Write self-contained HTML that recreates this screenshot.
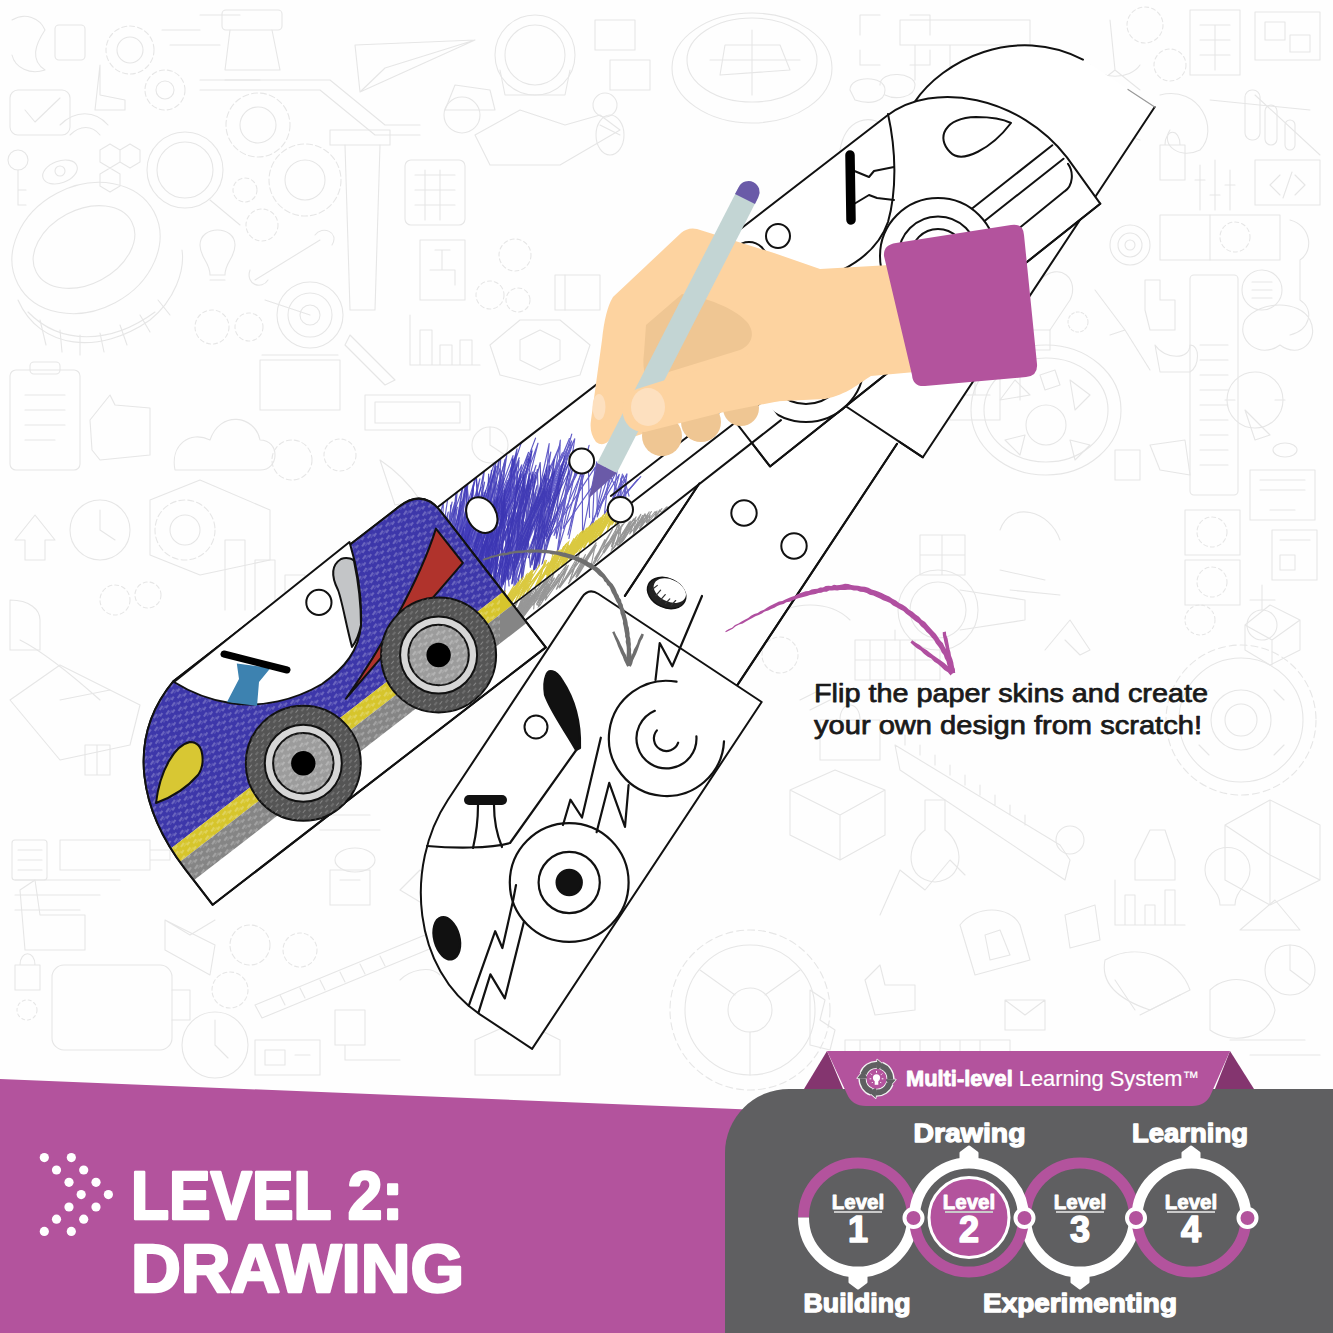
<!DOCTYPE html>
<html><head><meta charset="utf-8">
<style>
html,body{margin:0;padding:0;background:#fefefe;}
body{width:1333px;height:1333px;overflow:hidden;position:relative;}
svg{position:absolute;left:0;top:0;}
</style></head><body>
<svg width="1333" height="1333" viewBox="0 0 1333 1333">
<g id="bg" fill="none" stroke="#e6e6e6" stroke-width="1.1" stroke-linecap="round" stroke-linejoin="round">
  <!-- tire top-left -->
  <ellipse cx="86" cy="248" rx="77" ry="62" transform="rotate(-28 86 248)"/>
  <ellipse cx="84" cy="247" rx="54" ry="37" transform="rotate(-28 84 247)"/>
  <path d="M18,300 C40,350 100,355 150,320 C175,300 185,270 182,250"/>
  <path d="M28,312 C60,345 110,345 155,312"/>
  <path d="M40,320 L46,345 M60,330 L62,352 M80,335 L80,355 M100,333 L104,352 M120,325 L127,345 M140,315 L150,332 M158,300 L170,315"/>
  <!-- top-left icons -->
  <path d="M12,20 C25,12 40,18 45,30 C35,45 30,60 45,70 C30,75 15,68 12,55"/><rect x="55" y="25" width="30" height="35" rx="4"/>
  <circle cx="130" cy="50" r="24" stroke-dasharray="5 3"/><circle cx="130" cy="50" r="13"/>
  <circle cx="165" cy="90" r="20" stroke-dasharray="5 3"/><circle cx="165" cy="90" r="9"/>
  <path d="M100,65 L100,95 L125,100 L125,110 L95,110 Z"/>
  <rect x="10" y="90" width="60" height="45" rx="8"/><path d="M25,110 L35,122 L60,98"/>
  <path d="M60,125 C75,110 95,110 108,125 M70,135 C80,125 92,125 100,135"/>
  <circle cx="18" cy="160" r="10"/><path d="M18,170 L18,205 L26,205 M18,190 L26,190"/>
  <ellipse cx="60" cy="172" rx="18" ry="11" transform="rotate(-20 60 172)"/><circle cx="60" cy="171" r="5"/>
  <path d="M100,150 L110,144 L120,150 L120,162 L110,168 L100,162 Z M120,150 L130,144 L140,150 L140,162 L130,168 L120,162 Z M110,168 L120,174 L120,186 L110,192 L100,186 L100,174 Z"/>
  <circle cx="185" cy="170" r="38"/><circle cx="185" cy="170" r="28"/><path d="M210,200 L240,225"/>
  <path d="M162,30 L200,30 M170,45 L220,45 M200,15 L240,15 M225,80 L260,80"/>
  <path d="M200,80 L330,80 L385,125 L420,125 M200,90 L320,90 L375,135 L420,135"/>
  <rect x="222" y="10" width="60" height="20" rx="4"/><path d="M230,30 L225,70 L280,70 L272,30"/><rect x="330" y="130" width="60" height="15"/><path d="M345,145 L350,310 L375,310 L380,145"/>
  <path d="M355,45 L475,40 L360,92 Z M360,92 L385,68 L475,40"/>
  <circle cx="258" cy="125" r="32" stroke-dasharray="6 3"/><circle cx="258" cy="125" r="18"/>
  <circle cx="305" cy="180" r="36" stroke-dasharray="6 3"/><circle cx="305" cy="180" r="20"/>
  <circle cx="245" cy="190" r="12" stroke-dasharray="4 3"/><circle cx="262" cy="225" r="16" stroke-dasharray="4 3"/>
  <ellipse cx="535" cy="55" rx="40" ry="40"/><ellipse cx="535" cy="55" rx="30" ry="30"/><path d="M500,70 L505,95 L565,95 L570,70"/>
  <rect x="405" y="160" width="60" height="65" rx="6"/><path d="M415,175 L455,175 M415,190 L455,190 M415,205 L455,205 M425,170 L425,220 M440,170 L440,220"/>
  <path d="M475,135 L520,110 L565,125 L600,115 L620,130 L560,165 L490,165 Z"/><ellipse cx="610" cy="135" rx="14" ry="20"/>
  <path d="M445,110 L455,85 L490,90 L495,110 Z"/><circle cx="462" cy="115" r="18"/>
  <circle cx="605" cy="105" r="12"/><path d="M600,125 L620,135"/>
  <path d="M610,60 L650,60 L650,90 L610,90 Z M595,20 L635,20 L635,50 L595,50 Z"/>
  <path d="M200,245 C200,225 235,225 235,245 C235,258 225,262 225,275 L210,275 C210,262 200,258 200,245 Z M210,280 L225,280"/>
  <path d="M255,280 L320,240 M250,270 C245,285 262,290 268,280 M315,235 C322,225 340,232 332,245"/>
  <circle cx="310" cy="315" r="33"/><circle cx="310" cy="315" r="22"/><circle cx="310" cy="315" r="10"/><path d="M265,300 L310,315"/>
  <path d="M350,335 L395,380 L385,385 L345,345 Z"/>
  <path d="M410,315 L410,365 L480,365 M420,365 L420,330 L432,330 L432,365 M440,365 L440,345 L452,345 L452,365 M460,365 L460,340 L472,340 L472,365"/>
  <rect x="420" y="240" width="45" height="60"/><path d="M435,250 L450,250 M442,250 L442,270 M430,270 L455,270 L455,285"/>
  <path d="M490,345 L520,320 L560,320 L590,345 L580,375 L540,385 L500,375 Z"/><path d="M520,340 L540,330 L560,340 L560,360 L540,370 L520,360 Z"/>
  <circle cx="212" cy="327" r="17" stroke-dasharray="4 3"/><circle cx="249" cy="327" r="14" stroke-dasharray="4 3"/>
  <circle cx="515" cy="255" r="16" stroke-dasharray="4 3"/><circle cx="490" cy="295" r="14" stroke-dasharray="4 3"/><circle cx="518" cy="300" r="12" stroke-dasharray="4 3"/>
  <rect x="555" y="275" width="45" height="35"/><path d="M565,275 L565,310"/>
  <rect x="10" y="370" width="70" height="100" rx="6"/><path d="M25,395 L65,395 M25,410 L65,410 M25,425 L65,425 M25,440 L55,440"/><rect x="30" y="362" width="30" height="12" rx="4"/>
  <path d="M90,420 L110,395 L115,405 L150,408 L150,455 L100,460 L92,450 Z"/>
  <path d="M175,470 C170,445 190,430 210,440 C220,410 255,415 260,440 C280,440 280,470 260,470 Z"/>
  <circle cx="292" cy="460" r="20" stroke-dasharray="5 3"/><circle cx="340" cy="455" r="16" stroke-dasharray="4 3"/>
  <path d="M365,395 L470,395 L470,430 L365,430 Z"/><path d="M375,402 L460,402 L460,423 L375,423 Z"/>
  <path d="M260,360 L340,360 L340,410 L260,410 Z M262,355 L338,355"/>
  <circle cx="490" cy="445" r="18"/><path d="M490,445 L490,427 M490,445 L505,455"/>
  <path d="M380,460 C395,470 410,485 420,500 L395,505 Z"/>
  <!-- left middle -->
  <path d="M150,500 L200,480 L270,510 L270,560 L200,575 L150,555 Z"/><circle cx="185" cy="530" r="30" stroke-dasharray="6 3"/><circle cx="185" cy="530" r="15"/>
  <circle cx="100" cy="530" r="30"/><path d="M100,530 L100,510 M100,530 L115,540"/>
  <path d="M15,540 L35,515 L55,540 L45,540 L45,560 L25,560 L25,540 Z"/>
  <path d="M225,610 L225,540 L245,540 L245,610 M255,610 L255,560 L275,560 L275,610 M285,610 L285,575 L305,575 L305,610"/>
  <circle cx="115" cy="600" r="15" stroke-dasharray="4 3"/><circle cx="148" cy="595" r="13" stroke-dasharray="4 3"/>
  <path d="M10,600 C30,600 40,610 40,620 L40,650 L10,650 Z"/><path d="M20,640 C30,645 55,660 100,700"/>
  <path d="M10,700 L60,665 L140,705 L130,745 L60,760 Z"/><path d="M60,700 L110,690"/>
  <path d="M85,745 L85,775 L110,775 L110,745 Z M97,745 L97,775"/>
  <rect x="12" y="840" width="35" height="40" rx="3"/><path d="M18,850 L42,850 M18,860 L42,860 M18,870 L42,870"/>
  <path d="M60,840 L150,840 L150,870 L60,870 Z M150,850 L170,850 L170,860 L150,860"/>
  <path d="M15,880 L120,880 M15,895 L100,895 M15,910 L80,910"/>
  <path d="M20,890 L35,880 L40,915 L85,915 L85,950 L25,950 Z"/>
  <path d="M165,920 L215,945 L210,975 L165,950 Z M165,920 L190,935 L215,920"/>
  <circle cx="250" cy="945" r="20" stroke-dasharray="5 3"/><circle cx="300" cy="950" r="17" stroke-dasharray="4 3"/><circle cx="230" cy="990" r="18" stroke-dasharray="4 3"/>
  <path d="M255,1005 L425,935 L432,948 L262,1018 Z M280,995 L285,1005 M300,988 L305,998 M320,980 L325,990 M340,972 L345,982 M360,964 L365,974 M380,956 L385,966"/>
  <rect x="52" y="965" width="120" height="85" rx="12"/><path d="M172,990 L190,990 L190,1020 L172,1020"/>
  <path d="M15,965 L40,965 L40,990 L15,990 Z M20,965 C20,950 35,950 35,965"/><circle cx="27" cy="1010" r="10" stroke-dasharray="3 3"/>
  <circle cx="215" cy="1045" r="33"/><path d="M215,1045 L215,1020 M215,1045 L228,1058"/>
  <path d="M255,1040 L320,1040 L320,1075 L255,1075 Z M265,1050 L285,1050 L285,1065 L265,1065 Z M295,1055 L310,1055"/>
  <path d="M335,1010 L365,1010 L365,1045 L335,1045 Z M345,1045 L345,1060 L400,1060"/>
  <path d="M475,1040 L520,1020 L560,1040 L560,1075 L475,1075 Z"/>
  <path d="M440,950 L455,935 M445,965 L470,945 M400,980 C410,970 430,965 440,975"/>
  <path d="M330,870 L370,870 L370,905 L330,905 Z M340,880 L360,880"/>
  <path d="M400,890 L420,870 L440,890 L425,905 Z"/>
  <ellipse cx="355" cy="860" rx="20" ry="12"/><path d="M320,830 L380,830 M330,815 L370,815"/>
  <!-- top right -->
  <ellipse cx="752" cy="68" rx="80" ry="55"/><ellipse cx="752" cy="60" rx="65" ry="42"/><path d="M710,60 L800,60 M752,30 L752,95"/><path d="M725,45 L780,45 L790,70 L720,75 Z"/>
  <path d="M860,15 L880,15 M860,15 L860,35 M930,15 L910,15 M930,15 L930,35 M860,50 L860,65 L880,65 M930,50 L930,65 L910,65"/>
  <path d="M900,20 L1030,20 L1030,45 L900,45 Z M915,45 L915,80 M950,45 L950,80"/>
  <path d="M850,90 C850,75 885,75 885,90 C885,102 870,105 855,100 Z M880,85 C880,70 915,72 915,85 C915,98 895,100 885,95"/>
  <path d="M1110,20 L1115,70 L1090,90 M1115,70 L1140,90"/><path d="M1090,65 C1100,80 1130,80 1140,65"/>
  <circle cx="1145" cy="25" r="18" stroke-dasharray="4 3"/><circle cx="1170" cy="65" r="16" stroke-dasharray="4 3"/>
  <rect x="1190" y="10" width="50" height="65"/><path d="M1200,25 L1230,25 M1200,40 L1230,40 M1200,55 L1230,55 M1215,25 L1215,70"/>
  <rect x="1255" y="12" width="65" height="48"/><path d="M1265,22 L1285,22 L1285,40 L1265,40 Z M1290,35 L1310,35 L1310,52 L1290,52 Z"/>
  <path d="M1160,95 C1200,85 1220,130 1200,150 C1180,160 1160,145 1170,130"/><path d="M1140,110 C1120,115 1120,135 1140,140"/>
  <path d="M1210,100 L1310,110 M1255,95 L1320,155"/>
  <rect x="1245" y="90" width="15" height="50" rx="7"/><rect x="1265" y="105" width="12" height="40" rx="6"/><rect x="1285" y="120" width="10" height="30" rx="5"/>
  <path d="M1160,145 L1185,145 L1185,180 L1160,180 Z M1165,145 C1165,128 1180,128 1180,145"/>
  <path d="M1200,165 L1200,210 M1215,160 L1215,210 M1230,170 L1230,210 M1195,180 L1205,180 M1210,195 L1220,195 M1225,185 L1235,185"/>
  <rect x="1255" y="160" width="65" height="45"/><path d="M1270,185 L1280,175 M1270,185 L1280,195 M1305,185 L1295,175 M1305,185 L1295,195 M1292,172 L1283,198"/>
  <rect x="1160" y="215" width="120" height="45"/><path d="M1210,215 L1210,260"/><circle cx="1235" cy="237" r="15" stroke-dasharray="4 3"/>
  <circle cx="1130" cy="245" r="20"/><circle cx="1130" cy="245" r="12"/><circle cx="1130" cy="245" r="5"/>
  <path d="M1290,220 C1310,225 1315,250 1300,260 L1300,300 C1315,310 1310,330 1290,335"/>
  <rect x="1190" y="275" width="48" height="220" rx="4"/><path d="M1200,345 L1228,345 M1200,360 L1228,360 M1200,375 L1228,375 M1200,390 L1228,390 M1200,405 L1228,405 M1200,420 L1228,420 M1200,435 L1228,435 M1200,450 L1228,450 M1200,465 L1228,465"/>
  <circle cx="1262" cy="290" r="20"/><path d="M1252,282 L1272,282 M1252,290 L1272,290 M1252,298 L1272,298"/>
  <path d="M1245,320 C1235,340 1260,360 1280,345 C1300,360 1320,340 1310,320 C1300,300 1260,300 1245,320 Z"/>
  <circle cx="1255" cy="400" r="28"/><path d="M1225,400 L1235,400 M1275,400 L1285,400"/>
  <path d="M1245,410 L1270,435 L1255,440 Z"/><ellipse cx="1285" cy="450" rx="12" ry="7"/>
  <rect x="1250" y="470" width="65" height="50"/><path d="M1260,480 L1305,480 M1260,490 L1305,490 M1270,510 L1295,510"/>
  <rect x="1185" y="510" width="55" height="45"/><circle cx="1212" cy="532" r="15" stroke-dasharray="4 3"/>
  <rect x="1185" y="560" width="55" height="45"/><circle cx="1212" cy="582" r="15" stroke-dasharray="4 3"/>
  <rect x="1272" y="530" width="45" height="50"/><path d="M1280,540 L1310,540 M1280,555 L1295,555 L1295,570 L1280,570 Z"/>
  <path d="M1262,585 L1262,610 M1250,600 L1275,600"/><circle cx="1262" cy="625" r="15"/>
  <path d="M1245,625 L1270,605 L1300,620 L1300,650 L1270,665 L1245,650 Z M1245,625 L1272,640 L1300,620 M1272,640 L1272,665"/>
  <rect x="950" y="360" width="50" height="60"/><path d="M960,375 L990,375 M975,375 L975,395 L960,395 M975,395 L990,395"/>
  <path d="M1010,330 L1050,330 L1050,350 L1010,350 Z M1020,350 L1020,400"/>
  <path d="M1040,280 C1060,260 1080,280 1070,300 L1050,330"/><circle cx="1078" cy="322" r="10" stroke-dasharray="3 2"/>
  <path d="M1095,290 L1125,330 L1110,335 M1125,330 L1150,370"/>
  <path d="M1145,280 L1160,280 L1160,300 L1175,300 L1175,330 L1150,330 L1145,310 Z"/>
  <path d="M1155,345 C1165,360 1190,360 1190,345 C1200,345 1200,365 1190,372 L1160,372 Z"/>
  <path d="M1150,445 L1185,440 L1190,475 L1160,470 Z"/>
  <path d="M1115,450 L1140,450 L1140,480 L1115,480 Z"/>
  <!-- fan wheel -->
  <ellipse cx="1046" cy="410" rx="75" ry="65"/><ellipse cx="1046" cy="410" rx="62" ry="52"/><circle cx="1046" cy="425" r="20"/>
  <path d="M1000,400 L1015,380 L1030,395 Z M1070,380 L1090,395 L1075,410 Z M1005,440 L1025,435 L1020,455 Z M1070,440 L1090,445 L1075,460 Z M1040,375 L1055,370 L1060,385 L1045,390 Z"/>
  <path d="M1010,60 C1030,45 1060,50 1070,70"/><path d="M840,150 C845,120 870,110 890,130"/>
  <!-- right lower -->
  <g transform="translate(99,0)"><circle cx="1142" cy="720" r="75" stroke-dasharray="7 4"/><circle cx="1142" cy="720" r="62"/><circle cx="1142" cy="720" r="30"/><circle cx="1142" cy="720" r="16"/>
  <path d="M1100,700 L1110,690 M1185,700 L1175,690 M1100,745 L1110,755 M1185,745 L1175,755"/></g>
  <path d="M895,745 L1060,845 L1070,860 L1065,880 L900,770 Z M905,745 L905,735 M920,755 L920,745 M935,765 L935,755 M950,775 L950,765 M965,785 L965,775 M980,795 L980,785 M995,805 L995,795 M1010,815 L1010,805 M1025,825 L1025,815"/>
  <circle cx="1070" cy="840" r="14"/>
  <g transform="translate(30,0)"><path d="M1240,800 L1290,825 L1290,880 L1240,855 Z M1195,825 L1240,800 M1195,825 L1195,880 L1240,905 L1290,880 M1195,825 L1240,855 L1240,905"/></g>
  <path d="M925,800 L945,800 L945,830 C965,845 965,880 935,882 C905,880 905,845 925,830 Z"/>
  <path d="M790,790 L835,770 L885,790 L840,815 Z M790,790 L790,835 L840,860 L885,835 L885,790 M840,815 L840,860"/>
  <path d="M880,915 L900,870 L925,890 L950,860 L965,875"/>
  <path d="M1115,880 L1115,925 L1185,925 M1125,925 L1125,895 L1135,895 L1135,925 M1145,925 L1145,905 L1155,905 L1155,925 M1165,925 L1165,890 L1175,890 L1175,925"/>
  <path d="M1135,860 L1150,830 L1165,830 L1175,860 L1175,880 L1135,880 Z"/>
  <path d="M1205,870 C1205,840 1250,840 1250,870 C1250,885 1235,890 1235,905 L1220,905 C1220,890 1205,885 1205,870 Z"/>
  <path d="M1240,930 L1275,900 L1300,930 L1240,930 Z"/>
  <circle cx="1290" cy="970" r="25"/><path d="M1290,970 L1290,945 M1290,970 L1310,985"/>
  <path d="M1105,960 C1140,940 1180,960 1190,990 L1150,1010 C1120,1000 1100,985 1105,960 Z"/>
  <path d="M1115,980 L1135,1010 M1140,1015 L1180,995"/>
  <path d="M1210,990 C1230,970 1270,980 1275,1010 C1270,1040 1230,1045 1210,1030 Z"/>
  <path d="M1230,1040 L1305,1040 M1250,1055 L1320,1055"/>
  <path d="M960,925 C975,905 1010,905 1020,925 L1030,960 L975,975 Z"/><path d="M985,935 L1000,930 L1010,955 L990,960 Z"/>
  <path d="M1065,915 L1095,905 L1100,940 L1070,948 Z"/>
  <path d="M1005,1000 L1045,1000 L1045,1030 L1005,1030 Z M1005,1000 L1025,1015 L1045,1000"/>
  <path d="M865,980 L880,965 L885,985 L915,985 L915,1010 L875,1015 Z"/>
  <path d="M810,990 L825,1000 L820,1020 L835,1030 L830,1050 L810,1045 Z"/>
  <circle cx="750" cy="1010" r="80" stroke-dasharray="7 4"/><circle cx="750" cy="1010" r="65"/><circle cx="750" cy="1010" r="22"/><path d="M700,970 L735,995 M800,970 L765,995 M750,1032 L750,1075"/>
  <path d="M845,1040 L1010,1040 L1010,1058 L845,1058 Z M860,1040 L860,1058 M880,1040 L880,1058 M900,1040 L900,1058 M920,1040 L920,1058 M940,1040 L940,1058 M960,1040 L960,1058 M980,1040 L980,1058"/>
  <path d="M820,720 L880,720 L880,760 L820,760 Z M840,720 C840,700 860,700 860,720"/>
  <path d="M800,700 L820,690 M810,710 L830,700"/>
  <path d="M855,640 L940,640 L940,680 L855,680 Z M870,640 L870,680 M885,640 L885,680 M900,640 L900,680 M915,640 L915,680 M855,660 L940,660"/><path d="M895,630 L895,640"/>
  <path d="M770,620 C790,600 830,600 850,620"/><circle cx="780" cy="655" r="18" stroke-dasharray="4 3"/>
  <circle cx="938" cy="610" r="40"/><circle cx="938" cy="610" r="28"/><path d="M960,590 L1025,600 L1025,620 L960,630"/>
  <path d="M920,535 L965,535 L965,575 L920,575 Z M920,555 L965,555 M942,535 L942,575"/>
  <path d="M1000,530 C1010,500 1050,510 1060,540"/>
  <path d="M1000,570 L1045,580 M1010,590 L1060,595"/>
  <path d="M1045,650 L1070,620 L1090,650 L1080,655 L1065,640"/>
  <circle cx="1200" cy="620" r="15" stroke-dasharray="3 3"/>
  <path d="M1235,1150 L1270,1130"/>
</g>
<!-- ILLUSTRATION -->
<defs>
  <pattern id="tex" patternUnits="userSpaceOnUse" width="10" height="8" patternTransform="rotate(-55)">
    <path d="M0,2 L5,2 M5,6 L9,6" stroke="#ffffff" stroke-width="1.2" opacity="0.45" fill="none"/>
    <path d="M2,4.2 L7,4.2" stroke="#ffffff" stroke-width="0.8" opacity="0.25" fill="none"/>
  </pattern>
  <pattern id="texd" patternUnits="userSpaceOnUse" width="9" height="7" patternTransform="rotate(-50)">
    <path d="M0,2 L4,2 M4,5.5 L8,5.5" stroke="#dddddd" stroke-width="1.1" opacity="0.35" fill="none"/>
  </pattern>
</defs>
<g id="ill" fill="#fff" stroke="#111" stroke-width="2" stroke-linejoin="round" stroke-linecap="round">

<!-- P1 outer back paper (56.5deg) -->
<g transform="matrix(0.5519,-0.8339,0.8339,0.5519,0,0)">
  <path d="M128,930 L128,1022 L548,1022 L548,936 C540,860 470,819 419,819 L300,780 L128,780 Z" stroke="none"/>
  <path d="M128,930 L128,1022 L548,1022" fill="none"/>
  <path d="M548,1022 L548,990" fill="none" stroke="#999" stroke-width="1.2"/>
  <path d="M548,936 C540,860 470,819 419,819" fill="none"/>
</g>

<!-- W strip (56.5deg) -->
<g transform="matrix(0.5519,-0.8339,0.8339,0.5519,0,0)">
  <path d="M-170,850 L-17,850 L130,850 L130,993 L-170,993 Z" stroke="none"/>
  <path d="M-152,850 L-17,850" fill="none"/>
  <path d="M-165,993 L125,993" fill="none"/>
</g>

<!-- P2 car template (37.7deg) -->
<g transform="matrix(0.7912,-0.6115,0.6115,0.7912,0,0)">
  <path d="M324,634 L631,634 C690,634 748,700 748,777 L746,834 L324,840 Z"/>
</g>
<!-- P2 contents -->
<g fill="none">
  <path d="M888,114 C896,150 897,190 888,222 C880,245 862,260 842,270"/>
  <path d="M852,170 L869,177 L874,171 L894,167"/>
  <path d="M854,204 L869,195 L877,198 L894,200"/>
  <path d="M1011,123 C992,148 962,165 950,152 C936,138 944,118 976,117 C990,117 1003,119 1011,123 Z"/>
  <path d="M1052.3,145.2 L971.8,208.8"/>
  <path d="M1063.5,158.7 L983.6,221.7"/>
  <path d="M1068,163.8 C1074,172 1073,186 1064.6,191.3 L985,256"/>
  <circle cx="938" cy="256" r="58" fill="#fff"/>
  <circle cx="938" cy="256" r="39.5"/>
  <circle cx="938" cy="256" r="27"/>
  <circle cx="806" cy="364" r="58" fill="#fff"/>
  <circle cx="806" cy="364" r="40"/>
  <circle cx="778" cy="236" r="12" fill="#fff"/>
</g>
<line x1="850" y1="155" x2="851" y2="220" stroke="#000" stroke-width="9.5"/>

<!-- S strips (37.7deg) -->
<g transform="matrix(0.7912,-0.6115,0.6115,0.7912,0,0)">
  <path d="M36,669 L360,669 L361,810 L36,810 Z" stroke="none"/>
</g>
<clipPath id="cb"><path d="M36,669 L400,669 L400,778 L36,778 Z"/></clipPath><clipPath id="cy"><path d="M36,776 L176,776 L176,792 L36,792 Z"/></clipPath><clipPath id="cg"><path d="M36,792 L400,792 L400,810 L36,810 Z"/></clipPath><g transform="matrix(0.7912,-0.6115,0.6115,0.7912,0,0)"><g clip-path="url(#cb)"><g fill="none" stroke="#4a44c0" stroke-width="1.15" opacity="0.85" stroke-linejoin="round"><path d="M57.0,752.4 L182.6,698.5 L74.8,778.9 L157.8,708.1 L84.5,757.5 L182.2,711.7 L122.5,762.5 L192.8,740.4 L158.4,770.1 L199.9,754.1 L168.9,777.8 L201.7,761.6 L190.2,777.3"/><path d="M118.6,705.3 L19.5,782.3 L126.5,676.9 L50.4,776.2 L159.4,694.5 L71.6,779.1 L186.9,693.2 L83.9,765.8 L177.5,722.5 L134.0,779.3 L189.8,730.3 L156.5,774.3 L191.6,751.0 L185.3,778.8"/><path d="M102.2,759.9 L174.4,722.1 L102.6,762.2 L185.1,733.7 L147.4,777.9 L193.3,746.3 L163.7,776.5 L206.3,758.4 L189.9,774.4 L210.7,769.4"/><path d="M202.6,755.7 L178.8,777.0 L202.0,765.2"/><path d="M-11.9,757.3 L118.2,686.6 L18.2,766.0 L154.7,679.7 L42.3,768.6 L133.3,703.4 L74.4,761.9 L163.3,686.8 L79.4,778.3 L174.3,690.8 L111.0,766.2 L175.2,714.2 L110.9,762.5 L187.2,721.1"/><path d="M199.9,757.6 L185.9,774.7 L211.7,769.4"/><path d="M-52.8,762.9 L82.7,679.9 L-40.4,756.4 L83.0,686.2 L-60.5,782.7 L72.6,669.0 L-4.0,774.1 L107.0,681.9 L0.6,782.0 L129.7,675.8 L3.4,751.5 L127.3,674.2 L46.4,757.3 L125.4,703.4 L66.3,760.0 L170.5,694.7 L65.6,752.6 L181.4,701.6 L78.4,768.9 L185.1,719.3 L120.8,774.0"/><path d="M198.5,758.4 L186.2,774.0 L215.5,769.0"/><path d="M63.6,688.2 L-96.4,772.3 L41.6,679.3 L-60.7,779.3 L81.0,685.5 L-39.6,767.0 L66.6,699.4 L-38.8,777.7 L98.3,684.7 L-26.5,773.8 L107.5,672.5 L-16.8,756.2 L108.4,668.5"/><path d="M142.1,778.6 L201.3,749.0 L177.8,771.8 L202.4,757.2 L194.3,777.4"/><path d="M3.0,752.8 L128.6,686.9 L27.1,779.7 L134.8,701.3 L9.5,766.3 L121.0,689.7 L48.9,770.1 L137.8,686.2 L47.8,775.0 L182.4,695.2 L54.3,768.0 L186.4,698.7 L105.5,776.4 L193.8,712.6 L122.2,770.6 L185.0,722.5 L150.1,769.9"/><path d="M52.6,665.3 L-57.0,770.1 L73.5,682.3 L-54.6,781.5 L58.5,679.1 L-27.4,746.4 L64.7,683.8 L-45.9,762.8 L79.8,671.7 L-5.1,761.7 L107.2,698.4 L20.4,775.0 L139.6,696.0 L24.5,780.2 L122.7,692.6 L47.2,781.2 L145.9,681.2 L44.7,764.7 L168.1,702.3 L72.4,753.5 L168.2,713.9 L103.5,777.3"/><path d="M69.3,668.2 L-94.9,773.6 L44.0,668.3 L-33.6,759.8 L71.9,686.7 L-39.1,766.9 L86.9,672.3 L-13.0,758.0 L88.6,663.6 L16.0,775.5 L107.7,690.4 L9.6,752.2 L126.3,696.1 L-0.7,759.3 L123.0,685.3 L46.9,779.7 L166.6,708.7 L48.8,767.4 L149.6,704.7 L91.8,757.4"/></g><g fill="none" stroke="#3f39b8" stroke-width="1.15" opacity="0.85" stroke-linejoin="round"><path d="M73.2,690.4 L-25.4,748.2 L78.7,694.0 L-8.3,763.5 L96.9,677.1 L-17.8,771.7 L113.2,666.3 L9.5,749.2 L106.3,686.9 L9.2,774.3 L119.4,663.7 L22.3,749.1 L143.8,667.7"/><path d="M47.8,675.2 L-38.7,777.1 L70.5,665.9 L-25.3,755.7 L67.0,698.1 L-12.0,746.6 L84.5,685.0 L-11.9,760.8 L98.1,665.9 L-6.4,771.3 L118.7,672.3 L20.9,779.6 L115.5,669.3"/><path d="M-14.1,748.2 L86.0,667.5 L13.5,769.2 L111.4,666.7 L15.8,779.0 L144.8,682.5 L19.8,754.5 L129.1,681.8 L46.5,768.9"/><path d="M115.3,676.4 L19.4,767.4 L96.7,673.9 L28.0,762.8 L124.8,677.1 L41.3,769.7 L126.6,678.2 L38.7,746.3 L155.8,674.2"/><path d="M-89.2,764.4 L20.5,687.1 L-78.7,755.9 L18.4,697.8 L-61.2,770.5 L34.9,666.5 L-55.4,778.1 L53.1,692.9 L-43.8,782.1 L58.7,692.1 L-20.0,765.6 L76.7,664.1 L-21.2,758.5 L92.6,697.7 L-13.9,779.4 L92.5,684.4 L8.6,778.1 L101.3,672.6"/><path d="M-78.6,760.2 L33.8,665.0 L-52.1,772.1 L52.7,677.7 L-60.5,747.2 L45.2,699.1 L-23.8,763.3 L76.2,684.6 L-29.6,764.6 L63.6,665.8 L-10.5,746.5 L84.9,691.8 L-11.2,768.6 L101.0,697.0 L21.4,778.2"/><path d="M-91.8,760.1 L10.8,679.2 L-78.9,761.4 L21.4,691.0 L-68.6,771.9 L39.3,700.0 L-58.2,771.8 L52.4,675.9 L-63.0,758.4 L51.7,681.0 L-37.2,766.7 L55.8,698.5"/><path d="M50.6,673.8 L-47.4,762.3 L51.6,695.4 L-46.6,769.8 L82.9,688.0 L-4.8,770.6 L76.0,685.8 L-18.7,759.2 L75.8,676.1 L-15.3,767.8 L122.3,670.4 L24.8,764.1"/><path d="M17.9,667.7 L-62.8,765.7 L14.8,684.1 L-62.3,766.8 L25.2,679.9 L-56.2,768.9 L42.2,694.5 L-48.9,747.6 L52.9,685.4 L-32.6,773.7 L59.5,668.7 L-46.0,779.5 L76.1,667.0 L-26.5,777.2 L78.1,673.2 L-14.6,778.8 L103.5,687.9 L18.0,772.7 L112.6,679.6 L9.4,758.5"/><path d="M35.2,767.5 L141.5,681.1 L18.6,757.2 L138.3,688.4"/><path d="M-35.4,765.2 L56.1,696.1 L-39.8,768.8 L76.5,663.9 L-21.9,764.2 L88.6,677.8 L0.5,757.3 L73.2,669.2 L2.1,779.4 L100.8,681.7 L13.8,754.2 L130.3,690.9 L2.8,749.7 L109.1,676.5 L44.4,775.0"/><path d="M82.5,693.0 L-15.2,778.4 L104.3,674.0 L17.5,751.5 L130.9,679.7 L17.5,762.1 L134.6,671.3 L32.8,781.7"/></g><g fill="none" stroke="#3b35b2" stroke-width="1.15" opacity="0.85" stroke-linejoin="round"><path d="M92.9,700.0 L40.5,770.3 L118.3,722.2 L51.3,779.7 L128.2,712.5 L50.0,769.6 L131.4,700.8 L78.5,775.6 L138.8,710.8 L72.1,779.3 L157.3,719.5 L83.1,778.5 L162.0,721.1"/><path d="M84.4,707.7 L12.6,767.8 L89.1,698.1 L34.1,764.8 L91.8,705.8 L55.8,768.3 L122.2,721.5 L40.6,769.3 L129.4,698.7 L58.9,776.5 L123.1,697.8 L53.7,770.4 L138.2,700.0 L92.7,762.8 L146.7,704.1 L81.8,773.8 L160.3,711.5"/><path d="M18.8,704.8 L-44.5,771.8 L48.1,706.8 L-38.7,761.5 L44.6,700.8 L-27.7,774.9 L40.9,708.5 L-6.4,763.9 L75.8,709.8 L-9.5,772.7 L71.3,697.3 L21.3,780.7 L78.7,702.1 L5.0,776.7 L89.6,697.9 L24.1,756.8 L92.2,700.7"/><path d="M43.2,761.0 L130.4,716.5 L62.0,763.7 L123.4,696.2 L72.7,773.2 L132.2,715.1 L75.4,772.3 L151.0,712.0 L76.2,776.5 L157.6,702.6 L103.9,758.9"/><path d="M92.4,708.1 L29.9,765.8 L117.9,713.6 L55.2,781.5 L122.9,717.6 L58.0,765.4 L140.2,713.3 L77.4,757.0 L142.1,715.7 L77.0,764.4 L165.5,712.6 L94.6,759.8 L177.9,707.2"/><path d="M-44.6,780.7 L26.4,714.8 L-44.1,763.6 L34.4,715.3 L-34.6,780.2 L58.2,710.4 L-13.4,756.3 L72.1,704.9 L-8.3,760.7 L62.7,719.6 L-0.7,762.8 L86.2,697.9 L26.6,761.3 L102.4,714.3 L30.6,755.4 L101.3,711.4 L47.4,768.3 L116.3,703.7"/><path d="M39.5,768.9 L99.9,696.1 L35.0,760.9 L124.0,704.1 L55.7,767.6 L132.6,699.0 L75.5,758.1 L131.5,720.5 L70.8,754.9 L144.6,696.3 L100.0,757.1 L150.7,704.4"/><path d="M18.0,754.8 L73.7,723.2 L16.1,768.0 L90.1,709.0 L25.0,781.2 L112.0,708.9 L48.5,774.8 L124.7,703.4 L55.1,754.9 L115.7,697.6 L67.8,758.1 L132.4,717.3 L71.4,755.5 L141.0,708.2 L93.4,769.1 L168.0,705.9"/></g></g><g clip-path="url(#cy)"><g fill="none" stroke="#d6c42c" stroke-width="1.1" opacity="0.9" stroke-linejoin="round"><path d="M80.8,789.0 L104.0,776.2 L86.1,791.3 L116.5,779.4 L95.9,792.3 L124.1,778.6 L99.4,791.7 L132.9,780.5 L100.3,791.2 L136.6,780.2 L107.1,791.6 L141.8,776.9 L118.9,789.0 L153.1,779.6 L118.6,788.4"/><path d="M12.3,788.9 L52.5,778.3 L23.4,792.2 L59.7,779.1 L30.3,791.7 L68.2,777.9 L37.7,788.8 L72.1,777.4 L37.8,788.4 L73.5,777.5 L41.9,792.0 L81.4,777.0 L54.9,787.3 L90.6,780.5 L68.2,792.4 L88.9,776.5 L66.7,792.4 L97.5,779.4 L75.3,789.4 L107.1,778.0"/><path d="M69.8,790.0 L103.5,776.7 L78.9,791.8 L110.9,777.9 L80.6,788.6 L118.4,775.3 L89.0,791.7 L128.1,777.0 L101.3,790.9 L136.4,775.6 L110.4,787.5 L141.2,776.6 L111.0,787.7 L150.7,779.3 L115.0,789.4 L149.2,776.3 L127.3,790.7 L155.6,778.3 L127.3,789.8 L163.7,778.4"/><path d="M11.3,775.3 L-7.9,792.2 L21.5,780.6 L-8.0,791.7 L23.9,778.5 L-0.8,787.6 L35.1,779.4 L11.2,787.9 L36.5,776.7 L17.9,789.1 L48.0,777.9 L26.3,787.5 L64.0,780.6 L27.0,792.1 L67.9,777.7 L31.8,787.9 L72.4,776.1 L44.0,791.7 L67.8,777.1"/><path d="M109.0,788.9 L143.1,779.6 L118.1,789.7 L160.8,777.9 L132.4,787.5 L159.7,779.8 L137.1,791.4 L163.7,776.3 L141.9,788.1 L170.3,779.3 L143.4,790.6 L174.4,778.7 L158.5,788.4 L189.6,777.8 L165.7,791.2 L190.0,777.4 L169.0,787.8"/><path d="M89.0,789.9 L111.8,777.1 L90.4,792.7 L124.8,777.1 L99.2,787.9 L126.6,780.3 L101.6,789.2 L135.0,778.2 L113.7,789.5 L148.1,780.0 L112.5,789.4 L157.1,776.6 L126.7,790.3 L157.0,779.6 L132.1,791.7 L167.8,778.5 L143.1,788.4 L170.8,780.0"/><path d="M129.3,780.0 L100.9,787.2 L145.4,776.7 L113.2,790.3 L148.9,778.3 L120.3,790.9 L159.0,777.0 L134.6,789.8 L160.7,777.6 L134.4,788.7 L160.1,778.4 L142.2,789.1 L169.1,775.3 L146.2,790.9 L185.1,776.6 L157.8,789.8 L190.7,779.2"/><path d="M21.0,780.1 L-6.9,788.9 L30.2,777.3 L5.3,791.1 L26.1,775.8 L7.4,790.3 L37.3,777.5 L21.6,792.3 L48.7,779.4 L30.1,791.7 L56.8,776.9 L23.5,790.3 L68.9,780.2 L45.6,790.3 L70.7,779.9 L53.1,792.1 L87.0,779.6 L53.2,788.6 L83.7,780.4"/><path d="M98.6,776.7 L77.6,792.8 L107.1,780.2 L81.2,791.7 L105.9,777.2 L89.1,788.9 L124.2,778.7 L100.3,790.2 L130.7,776.0 L110.1,787.7 L136.7,777.6 L103.9,790.3 L136.2,779.1 L110.2,789.8 L137.3,777.0 L114.4,787.3 L153.7,776.3 L133.7,792.7 L153.2,776.6 L133.9,790.9"/><path d="M48.9,790.8 L85.1,779.7 L53.8,791.7 L89.7,777.7 L65.0,791.3 L101.6,779.5 L69.0,791.7 L105.0,778.5 L76.3,787.6 L112.8,778.2 L84.3,787.8 L112.5,777.3"/><path d="M28.5,776.0 L12.5,791.0 L38.7,776.5 L10.4,789.6 L48.0,779.7 L14.5,792.6 L53.8,777.9 L28.4,788.9 L61.3,776.4 L28.5,791.7 L65.6,779.9 L39.1,791.5 L67.4,775.4 L50.4,790.9"/><path d="M144.8,789.7 L177.9,779.4 L153.9,792.4 L182.7,775.5 L163.1,789.4 L195.6,779.4 L172.2,788.5"/><path d="M120.3,775.4 L99.0,788.1 L118.2,776.7 L102.8,790.3 L134.2,776.0 L104.1,791.1 L137.6,775.7 L112.3,791.2 L143.3,779.8 L119.7,788.8 L147.5,776.9 L132.1,792.5 L153.7,777.5 L136.1,787.7 L163.7,775.6 L138.0,792.3 L174.8,775.7 L146.6,791.5 L172.1,779.5"/></g></g><g clip-path="url(#cg)"><g fill="none" stroke="#858585" stroke-width="1.1" opacity="0.85" stroke-linejoin="round"><path d="M10.5,809.8 L51.5,792.4 L19.5,809.3 L65.4,794.4 L26.1,810.7 L57.2,794.4 L36.3,807.4 L79.8,791.2 L36.4,808.3 L76.8,797.1 L54.9,807.4"/><path d="M129.2,809.5 L175.0,795.3 L140.0,806.9 L171.7,795.6 L154.7,806.9 L179.1,799.3 L157.3,809.8 L184.8,800.5 L174.4,810.1 L193.1,800.8 L174.2,810.0 L200.6,802.1 L182.9,809.2 L199.5,805.1 L193.7,809.8 L207.4,806.2 L201.2,810.1 L212.7,807.3"/><path d="M-1.4,810.6 L37.0,794.1 L9.3,806.4 L41.2,792.2 L19.9,805.5 L50.7,796.9 L15.0,807.1 L59.4,793.5 L18.0,808.9 L62.7,796.6 L24.8,806.2 L71.0,796.9"/><path d="M100.9,806.8 L136.1,797.4 L99.9,807.3 L139.7,794.1 L108.9,806.3 L137.4,795.6 L119.8,810.8 L148.4,797.0 L123.5,810.6 L161.2,793.2 L129.0,805.6 L168.8,796.6 L139.4,805.6 L169.1,793.4 L154.3,810.6 L180.1,797.9 L149.8,809.2 L181.9,800.9 L162.6,808.7"/><path d="M56.3,794.9 L30.3,804.7 L56.9,796.6 L32.3,808.1 L71.3,794.5 L35.9,805.1 L83.6,791.3 L51.6,804.7 L84.6,796.9 L61.7,804.9 L87.8,792.2 L64.4,808.4 L100.7,797.1 L63.4,806.5 L104.0,795.0 L83.9,806.4 L112.0,797.2 L92.3,810.2"/><path d="M17.4,796.4 L-2.7,805.9 L27.6,795.6 L5.3,809.9 L41.0,793.0 L10.4,807.5 L50.7,796.6 L22.7,810.2 L49.3,792.6 L20.9,806.8 L61.8,791.3 L39.3,804.9 L74.0,791.4 L35.0,807.1 L73.5,794.7 L45.5,804.9 L83.2,793.0 L54.9,806.2 L85.2,796.2 L55.8,808.3"/><path d="M167.5,793.0 L149.6,806.3 L169.0,794.4 L145.5,810.5 L178.8,797.9 L160.1,809.7 L192.5,798.8 L175.9,808.5 L192.1,803.6 L183.0,809.9 L202.6,803.1"/><path d="M77.8,792.7 L39.7,807.1 L76.9,793.9 L53.0,810.8 L90.9,796.3 L61.9,806.6 L95.6,795.8 L61.8,805.8 L102.7,793.5 L79.8,806.5 L119.2,797.4 L83.3,807.3 L119.9,792.5 L92.9,809.8 L124.1,796.9 L103.0,808.6 L138.5,796.0 L101.4,810.5 L136.4,796.2"/><path d="M167.9,797.9 L156.6,810.2 L183.9,798.2 L154.0,806.5 L187.3,798.0 L171.7,807.6 L196.2,801.0 L177.0,807.6 L195.9,802.0 L192.3,809.7 L197.2,803.4 L191.6,808.9 L205.6,805.4 L203.8,809.2 L210.3,806.9 L209.8,810.0 L217.5,808.9 L218.4,809.9"/><path d="M-8.1,809.1 L25.6,794.5 L-0.5,806.0 L33.4,796.7 L1.6,808.8 L30.6,797.4 L9.8,808.8 L45.4,796.3 L16.2,810.2 L58.5,792.6"/><path d="M7.4,805.9 L54.6,792.8 L21.8,807.3 L48.6,791.6 L20.1,810.8 L55.1,795.3 L31.1,805.2 L59.5,791.5 L33.2,809.5 L65.7,791.3 L49.9,808.2"/></g></g></g>
<g transform="matrix(0.7912,-0.6115,0.6115,0.7912,0,0)">
  <path d="M36,669 L360,669" fill="none"/>
  <path d="M180,766 L330,766" fill="none"/>
  <path d="M180,784 L362,784" fill="none"/>
  <path d="M36,812 L361,810" fill="none"/>
  <path d="M36,792 L175,792" fill="none" stroke-width="1.6"/>
  <path d="M324,781 L324,840 L746,834" fill="none"/>
</g>
<!-- W lower-right edge & P1 edges re-stroke over S strips -->
<g transform="matrix(0.5519,-0.8339,0.8339,0.5519,0,0)" fill="none">
  <path d="M-152,850 L-17,850"/>
  <path d="M-165,993 L125,993"/>
  <path d="M128,930 L128,1022"/>
</g>
<circle cx="744" cy="513" r="12.7"/>
<circle cx="794" cy="546" r="12.7"/>
<circle cx="620.4" cy="509.6" r="12.6"/>
<circle cx="581.7" cy="461" r="12.4"/>
<g transform="rotate(25 666.6 593)"><ellipse cx="666.6" cy="593" rx="20" ry="14.5" fill="#222" stroke="#111" stroke-width="1.5"/><ellipse cx="668.5" cy="589.5" rx="17" ry="11" fill="#fff" stroke="none"/><path d="M652,596 L655,590 M658,600 L660,593 M664,602 L666,595 M670,603 L672,597 M676,602 L678,596" stroke="#333" stroke-width="1.2" fill="none"/></g>

<!-- CS car skin (37.7deg) -->
<g transform="matrix(0.7912,-0.6115,0.6115,0.7912,0,0)">
  <path id="csout" d="M-279,645 L6,645 Q36,645 36,675 L36,846 L-385,846 L-385,801 C-385,730 -355,662 -279,645 Z"/>
</g>
<clipPath id="csclip"><path transform="matrix(0.7912,-0.6115,0.6115,0.7912,0,0)" d="M-279,645 L6,645 Q36,645 36,675 L36,846 L-385,846 L-385,801 C-385,730 -355,662 -279,645 Z"/></clipPath>
<g clip-path="url(#csclip)" stroke="none">
  <g transform="matrix(0.7912,-0.6115,0.6115,0.7912,0,0)">
    <rect x="-400" y="640" width="440" height="136" fill="#3d37aa"/>
    <rect x="-400" y="776" width="440" height="16" fill="#d6c52c"/>
    <rect x="-400" y="792" width="440" height="23" fill="#858585"/>
  </g>
  <rect x="100" y="450" width="400" height="480" fill="url(#tex)"/>
</g>
<g transform="matrix(0.7912,-0.6115,0.6115,0.7912,0,0)" fill="none">
  <path d="M-400,776 L36,776 M-400,792 L36,792 M-400,815 L36,815" clip-path="url(#csclip)" stroke-width="1.5"/>
  <path d="M-279,645 L6,645 Q36,645 36,675 L36,846 L-385,846 L-385,801 C-385,730 -355,662 -279,645 Z"/>
</g>
<!-- windshield -->
<path d="M174,682 L349.5,542 C358,570 362,600 361,625 C359,650 345,668 322,684 C295,700 262,708 230,703 C210,700 190,692 174,682 Z"/>
<path d="M341,559 C348,556 354,560 354,561 C358,580 361,600 361,625 C359,635 355,643 352,647 C346,625 342,600 338,590 C332,578 330,566 341,559 Z" fill="#c3c5c7"/>
<circle cx="318.9" cy="602.4" r="12.6"/>
<path d="M236.8,663.4 L270.5,668 L259,682 L257,706 L227,702 L239,679 Z" fill="#3d82b0" stroke="none"/>
<line x1="224" y1="654" x2="287" y2="670" stroke="#000" stroke-width="7"/>
<path d="M435.9,528.6 L462.9,562.8 L345.9,698.7 C380,650 420,580 435.9,528.6 Z" fill="#b0332c"/>
<path d="M156,803 C160,770 175,745 190,742 C205,742 205,765 198,775 C185,790 170,798 156,803 Z" fill="#d8c733"/>
<ellipse cx="481.8" cy="515.1" rx="14.4" ry="18.9" transform="rotate(-30 481.8 515.1)"/>
<!-- wheels -->
<g>
  <circle cx="303.3" cy="763.3" r="57.5" fill="#555"/>
  <circle cx="303.3" cy="763.3" r="57.5" fill="url(#texd)" stroke="none"/>
  <circle cx="303.3" cy="763.3" r="38.5" fill="#d6d6d6"/>
  <circle cx="303.3" cy="763.3" r="30.2" fill="#9c9c9c"/>
  <circle cx="303.3" cy="763.3" r="30.2" fill="url(#tex)" stroke="none"/>
  <circle cx="303.3" cy="763.3" r="12.2" fill="#000" stroke="none"/>
  <circle cx="438.6" cy="655" r="57.5" fill="#555"/>
  <circle cx="438.6" cy="655" r="57.5" fill="url(#texd)" stroke="none"/>
  <circle cx="438.6" cy="655" r="38.5" fill="#d6d6d6"/>
  <circle cx="438.6" cy="655" r="30.2" fill="#9c9c9c"/>
  <circle cx="438.6" cy="655" r="30.2" fill="url(#tex)" stroke="none"/>
  <circle cx="438.6" cy="655" r="12.2" fill="#000" stroke="none"/>
</g>

<!-- SK sketch skin (56.5deg) -->
<g transform="matrix(0.5519,-0.8339,0.8339,0.5519,0,0)">
  <path d="M-165,827 Q-165,815 -177,815 L-420,815 C-500,815 -581,880 -581,960 L-581,1022.6 L-165,1022.6 Z"/>
</g>
<g fill="none" stroke-width="2.2">
  <circle cx="536" cy="727" r="11.5" stroke-width="2"/>
  <path d="M546,676 C548,668 556,670 562,680 C572,695 581,715 580,748 L576,750 C566,732 551,712 545,695 C544,688 544,681 546,676 Z" fill="#111"/>
  <path d="M427,846 C450,848 490,849 510,843 L577,749"/>
  <path d="M469,800 L502,800" stroke-width="10"/>
  <path d="M478,805 C478,820 476,835 473,848 M494,805 C494,820 497,835 502,847"/>
  <circle cx="569.2" cy="882.5" r="59.4" fill="#fff"/>
  <circle cx="569.2" cy="882.5" r="30.6"/>
  <circle cx="569.2" cy="882.5" r="12.6" fill="#111"/>
  <circle cx="666.5" cy="738.4" r="57.6" fill="#fff" stroke="none"/>
  <path d="M676.5,681.7 A57.6,57.6 0 1 0 724.0,741.4"/>
  <path d="M654.8,710.8 A30.0,30.0 0 1 0 696.4,736.3"/>
  <path d="M656.9,730.4 A12.5,12.5 0 1 0 678.2,742.7"/>
  <ellipse cx="446.8" cy="938.3" rx="12.6" ry="21.6" transform="rotate(-15 446.8 938.3)" fill="#111"/>
  <path d="M563,825 L570.4,799.7 L582,817.5 L600.8,737.7"/><path d="M596.6,832.2 L609.2,782.9 L625,826.9 L628.6,785"/>
  <path d="M468.8,1005.6 L495.2,931.2 L502.4,948 L513.2,900 L516,885"/><path d="M478.4,1012.8 L490.4,974.4 L504.8,998.4 L524,921.6"/>
  <path d="M655.5,680 L659.7,643 L672.3,666.3 L702,596"/>
</g>

<!-- gray curved arrow -->
<g stroke="none"><path d="M483.3,560.8 L485.7,559.8 L488.2,559.2 L490.7,558.1 L493.4,557.6 L496.0,556.8 L498.7,556.3 L501.4,555.4 L504.4,555.5 L507.2,554.9 L510.0,554.3 L512.9,553.5 L515.9,553.3 L518.8,553.1 L521.8,553.2 L524.8,552.4 L527.8,552.4 L530.9,553.0 L533.9,552.4 L537.0,552.6 L540.0,552.8 L543.1,553.2 L546.2,553.2 L549.2,553.5 L552.2,554.5 L555.3,554.5 L558.2,555.3 L561.1,556.3 L564.1,557.1 L567.1,557.7 L569.9,558.7 L572.8,559.6 L575.6,560.8 L578.4,562.0 L581.3,562.9 L583.9,564.5 L586.3,566.3 L589.0,567.8 L591.8,569.0 L594.3,570.7 L596.5,572.8 L598.1,574.4 L599.7,576.0 L601.7,577.3 L603.3,579.0 L604.3,581.2 L606.2,582.7 L607.1,585.0 L609.0,586.5 L610.2,588.6 L611.0,590.8 L612.0,593.0 L613.3,595.1 L614.3,597.3 L615.4,599.5 L616.4,601.7 L617.8,603.8 L618.3,606.3 L619.4,608.6 L620.2,611.0 L620.5,613.6 L621.5,615.9 L622.2,618.4 L623.0,620.9 L622.9,623.6 L623.6,626.1 L624.1,628.7 L624.5,631.3 L625.1,633.9 L625.1,636.6 L626.0,639.1 L625.7,641.9 L626.3,644.5 L626.7,647.1 L626.8,649.8 L626.8,652.5 L626.6,655.2 L627.0,657.9 L626.9,660.6 L626.7,663.3 L627.0,666.0 L630.9,666.0 L631.1,663.3 L631.6,660.6 L631.5,657.8 L631.6,655.1 L631.0,652.4 L631.1,649.6 L630.7,646.9 L630.9,644.1 L630.5,641.4 L630.4,638.7 L629.6,636.0 L629.6,633.2 L629.1,630.6 L628.9,627.9 L627.9,625.3 L627.6,622.6 L627.1,620.0 L626.4,617.4 L625.7,614.8 L625.0,612.3 L624.4,609.7 L623.2,607.3 L622.8,604.7 L621.5,602.4 L621.0,599.8 L619.4,597.7 L618.6,595.2 L617.1,593.1 L616.3,590.7 L615.3,588.4 L614.0,586.2 L612.6,584.1 L610.8,582.3 L609.3,580.4 L607.7,578.5 L606.2,576.5 L604.8,574.4 L603.1,572.7 L601.4,570.9 L599.6,569.0 L597.0,567.1 L594.2,565.5 L591.6,563.5 L588.7,562.2 L586.1,560.3 L583.1,559.2 L580.3,557.7 L577.2,556.8 L574.3,555.4 L571.3,554.4 L568.2,553.8 L565.2,552.8 L562.1,552.3 L559.0,551.5 L555.8,551.3 L552.7,550.7 L549.6,550.2 L546.5,550.1 L543.3,549.8 L540.2,549.4 L537.1,549.6 L534.0,549.5 L530.8,549.3 L527.8,550.0 L524.7,550.2 L521.6,550.6 L518.6,550.5 L515.6,550.8 L512.6,551.5 L509.6,551.5 L506.8,552.7 L503.8,552.7 L501.0,553.4 L498.2,554.0 L495.6,555.2 L492.8,555.6 L490.1,556.3 L487.7,557.6 L485.1,558.0 L482.7,559.3 Z" fill="#6e6e6e"/><path d="M612.2,632.3 L613.7,635.6 L615.1,639.1 L616.7,642.6 L618.0,646.2 L619.6,649.7 L621.0,653.2 L622.7,656.6 L624.0,660.2 L625.6,663.5 L627.2,666.8 L630.7,665.2 L629.5,661.7 L627.5,658.5 L626.0,655.1 L624.2,651.7 L622.7,648.2 L620.9,644.8 L619.4,641.3 L617.7,638.0 L615.9,634.7 L614.4,631.3 Z" fill="#6e6e6e"/><path d="M641.6,633.6 L639.9,636.7 L638.3,640.0 L637.2,643.4 L635.7,646.6 L633.9,649.6 L632.8,653.0 L631.3,656.1 L629.7,659.1 L628.7,662.3 L627.3,665.3 L630.8,666.7 L632.2,663.8 L633.0,660.5 L634.4,657.4 L636.0,654.3 L637.3,651.1 L638.5,647.8 L639.6,644.4 L640.9,641.1 L642.7,637.9 L643.9,634.5 Z" fill="#6e6e6e"/></g>
<!-- purple arrow -->
<g stroke="none"><path d="M725.8,632.2 L729.2,630.4 L732.7,628.7 L735.7,626.3 L739.1,624.6 L742.7,623.5 L745.9,621.6 L749.0,619.7 L752.3,618.1 L755.4,616.3 L758.7,614.9 L761.9,613.4 L764.8,611.5 L768.2,610.6 L771.3,609.0 L774.4,607.7 L777.3,606.1 L780.4,604.8 L783.6,604.0 L786.3,602.2 L789.6,601.8 L792.5,600.4 L795.4,599.3 L798.3,598.2 L801.3,597.5 L804.2,596.7 L807.1,596.0 L809.9,595.1 L812.8,594.5 L815.6,593.9 L818.4,593.1 L821.2,592.7 L823.8,591.7 L826.7,591.8 L829.2,590.6 L832.0,590.6 L834.6,590.2 L837.3,590.6 L839.9,590.1 L842.5,590.0 L845.0,590.1 L847.9,589.8 L850.9,589.8 L853.9,590.5 L857.1,590.6 L860.2,591.7 L863.5,591.9 L866.7,593.1 L869.8,594.7 L873.3,595.5 L876.5,597.0 L879.9,598.4 L883.1,600.3 L886.6,601.5 L890.1,603.1 L893.0,605.6 L896.5,607.2 L899.8,609.2 L903.3,611.0 L906.1,613.8 L909.2,616.1 L912.2,618.6 L915.2,621.1 L918.6,623.2 L921.0,626.3 L924.0,628.7 L926.4,631.7 L929.1,634.3 L931.6,637.2 L934.0,640.0 L935.8,643.2 L938.0,646.1 L940.2,649.0 L941.6,652.2 L943.8,655.0 L944.8,658.3 L946.5,661.2 L947.2,664.5 L948.1,667.6 L949.5,670.5 L949.6,673.8 L955.2,672.7 L954.7,669.3 L953.3,666.1 L952.5,662.6 L951.2,659.3 L949.5,656.1 L948.2,652.7 L946.3,649.6 L944.4,646.4 L942.8,642.9 L940.0,640.2 L938.0,636.9 L935.7,633.7 L933.0,631.0 L930.3,628.0 L927.6,625.1 L925.1,621.9 L921.6,619.8 L919.0,616.7 L915.7,614.4 L912.6,611.8 L909.1,609.7 L906.2,606.9 L902.8,604.7 L899.1,603.0 L896.0,600.5 L892.5,598.8 L889.2,596.6 L885.6,595.0 L882.2,593.3 L878.7,591.8 L875.2,590.5 L871.7,589.4 L868.4,587.7 L864.9,586.8 L861.3,586.6 L858.0,585.7 L854.6,585.5 L851.4,585.1 L848.2,583.9 L845.0,583.8 L842.2,584.6 L839.5,585.0 L836.8,585.3 L834.0,584.8 L831.3,585.9 L828.5,585.7 L825.7,586.0 L823.0,587.5 L820.1,587.6 L817.4,588.7 L814.4,589.1 L811.5,589.5 L808.8,591.1 L805.7,591.2 L802.8,592.2 L799.9,593.2 L797.1,594.6 L794.2,595.9 L791.2,597.1 L788.2,598.2 L785.3,599.6 L782.3,601.0 L779.0,601.6 L776.0,603.1 L772.9,604.4 L769.8,605.9 L766.9,607.8 L764.0,609.8 L760.6,610.9 L757.7,613.0 L754.3,614.1 L751.0,615.7 L748.2,618.1 L744.8,619.7 L741.6,621.5 L738.5,623.6 L735.0,625.1 L732.1,627.7 L728.5,629.2 L725.3,631.3 Z" fill="#b04fa0"/><path d="M910.4,642.5 L913.6,645.4 L916.9,648.3 L920.7,650.6 L923.9,653.7 L927.4,656.4 L931.2,658.6 L934.3,661.7 L937.9,664.1 L941.2,666.9 L944.3,670.0 L947.9,672.2 L950.6,675.5 L954.7,670.8 L951.4,668.1 L947.6,665.9 L944.3,663.1 L940.8,660.5 L937.2,658.0 L933.6,655.4 L930.0,652.8 L926.6,650.1 L922.8,647.8 L919.6,644.9 L915.7,642.7 L912.2,640.2 Z" fill="#b04fa0"/><path d="M942.7,632.2 L942.9,635.6 L943.7,639.0 L944.4,642.4 L945.3,645.9 L946.0,649.4 L946.3,653.0 L946.7,656.5 L947.3,660.1 L947.9,663.6 L948.5,667.0 L949.7,670.3 L950.2,673.7 L955.1,672.7 L954.7,669.3 L953.8,666.0 L953.3,662.5 L952.3,659.0 L951.0,655.7 L950.4,652.1 L949.4,648.7 L948.8,645.1 L948.1,641.6 L947.5,638.2 L946.2,634.9 L945.9,631.5 Z" fill="#b04fa0"/></g>

<circle cx="749" cy="260" r="18" fill="#fff" stroke="#111" stroke-width="2"/>
<!-- HAND -->
<g stroke="none">
  <path d="M613,297 L681,233 Q688,227 697,229 L774,253 L820,269 L890,265 L915,372 L871,376 C858,384 848,394 825,399 L761,402 L670,425 L636,436 L618,424 L611,438 Q604,448 596,442 Q589,433 591,420 L602,340 Q605,310 613,297 Z" fill="#fdd3a0"/>
  <path d="M646,325 L682,294 C705,297 735,308 747,322 C756,333 752,345 740,350 L646,379 Q642,365 644,353 Z" fill="#efc693"/>
  <circle cx="741" cy="408" r="18" fill="#efc693"/>
  <circle cx="701" cy="422" r="20" fill="#efc693"/>
  <circle cx="662" cy="436" r="20" fill="#efc693"/>
  <ellipse cx="599" cy="407" rx="6.5" ry="13" fill="#fde0bf"/>
  <!-- pencil -->
  <path d="M738.8,187 L758.4,197 L616.8,473 L597.2,463 Z" fill="#c3d5d4"/>
  <path d="M738.8,187 A11,11 0 0 1 758.4,197 L755,204 L735,194 Z" fill="#6a5aa8"/>
  <path d="M597.2,463 L616.8,473 L589,498 Z" fill="#6a5aa8"/>
  <!-- thumb over pencil -->
  <path d="M640,388 L760,350 L800,345 L800,397 L724,412 L645,432 Q625,432 622,410 Q624,392 640,388 Z" fill="#fdd3a0"/>
  <ellipse cx="648" cy="407" rx="17" ry="19" fill="#fde0bf"/>
  <!-- cuff -->
  <path d="M896,243 L1011,225 Q1023,223 1024,235 L1037,364 Q1038,376 1026,377 L925,386 Q913,387 912,375 L884,256 Q883,245 896,243 Z" fill="#b3539d"/>
</g>

<!-- caption -->
<g fill="#1a1a1a" stroke="#1a1a1a" stroke-width="0.75" stroke-linejoin="round" font-family="Liberation Sans" font-size="26">
  <text x="814" y="702" textLength="394" lengthAdjust="spacingAndGlyphs">Flip the paper skins and create</text>
  <text x="814" y="734" textLength="388" lengthAdjust="spacingAndGlyphs">your own design from scratch!</text>
</g>
</g>
<!-- BOTTOM BANNER -->
<g id="banner">
  <polygon points="0,1079 760,1110 760,1333 0,1333" fill="#b3539d"/>
  <g fill="#fff">
    <circle cx="44.3" cy="1157.6" r="4.6"/><circle cx="71.3" cy="1157.6" r="4.6"/>
    <circle cx="56.5" cy="1170" r="4.6"/><circle cx="83.7" cy="1170" r="4.6"/>
    <circle cx="69" cy="1182.3" r="4.6"/><circle cx="96" cy="1182.3" r="4.6"/>
    <circle cx="81.2" cy="1194.6" r="4.6"/><circle cx="108.4" cy="1194.6" r="4.6"/>
    <circle cx="69" cy="1207" r="4.6"/><circle cx="96" cy="1207" r="4.6"/>
    <circle cx="56.5" cy="1219.2" r="4.6"/><circle cx="83.7" cy="1219.2" r="4.6"/>
    <circle cx="44.3" cy="1231.4" r="4.6"/><circle cx="71.3" cy="1231.4" r="4.6"/>
  </g>
  <g fill="#fff" stroke="#fff" stroke-width="2.6" stroke-linejoin="round" font-family="Liberation Sans" font-weight="bold" font-size="68">
    <text x="131" y="1218.5" textLength="272" lengthAdjust="spacingAndGlyphs">LEVEL 2:</text>
    <text x="131" y="1291.5" textLength="333" lengthAdjust="spacingAndGlyphs">DRAWING</text>
  </g>

  <!-- gray panel -->
  <path d="M725,1333 V1153 A64,64 0 0 1 789,1089 H1333 V1333 Z" fill="#5f5f61"/>
  <!-- ribbon folds -->
  <polygon points="804,1089 827,1051 843,1089" fill="#84356f"/>
  <polygon points="1230,1051 1254,1089 1215,1089" fill="#84356f"/>
  <!-- ribbon -->
  <path d="M827,1051 H1230 L1211,1094 Q1206,1106 1192,1106 H866 Q852,1106 847,1094 Z" fill="#b3539d"/>
  <!-- ribbon icon -->
  <g transform="translate(876.5,1078.8)">
    <path d="M-12.97,-4.72 A13.8,13.8 0 0 1 0.48,-13.79 M4.72,-12.97 A13.8,13.8 0 0 1 13.79,0.48 M12.97,4.72 A13.8,13.8 0 0 1 -0.48,13.79 M-4.72,12.97 A13.8,13.8 0 0 1 -13.79,-0.48" fill="none" stroke="#f2f2f2" stroke-width="8.5"/>
    <path d="M0.67,-19.29 L0.29,-8.29 L7.48,-13.55 Z M19.29,0.67 L8.29,0.29 L13.55,7.48 Z M-0.67,19.29 L-0.29,8.29 L-7.48,13.55 Z M-19.29,-0.67 L-8.29,-0.29 L-13.55,-7.48 Z" fill="#5f5f61" stroke="#f2f2f2" stroke-width="1.5" stroke-linejoin="round"/>
    <path d="M-12.97,-4.72 A13.8,13.8 0 0 1 0.48,-13.79 M4.72,-12.97 A13.8,13.8 0 0 1 13.79,0.48 M12.97,4.72 A13.8,13.8 0 0 1 -0.48,13.79 M-4.72,12.97 A13.8,13.8 0 0 1 -13.79,-0.48" fill="none" stroke="#5f5f61" stroke-width="6"/>
    <path d="M0.67,-19.29 L0.29,-8.29 L7.48,-13.55 Z M19.29,0.67 L8.29,0.29 L13.55,7.48 Z M-0.67,19.29 L-0.29,8.29 L-7.48,13.55 Z M-19.29,-0.67 L-8.29,-0.29 L-13.55,-7.48 Z" fill="#5f5f61"/>
    <circle r="10" fill="#b3539d"/>
    <circle cx="0" cy="-1" r="3.6" fill="#fff"/>
    <rect x="-1.8" y="2" width="3.6" height="4" fill="#fff"/>
    <g stroke="#fff" stroke-width="1" stroke-linecap="round"><path d="M0,-7.5 L0,-6.5 M-5.5,-5 L-4.8,-4.3 M5.5,-5 L4.8,-4.3 M-6.5,0 L-5.6,0 M6.5,0 L5.6,0 M-4.5,4 L-4,3.5 M4.5,4 L4,3.5"/></g>
  </g>
  <g fill="#fff" stroke="#fff" stroke-linejoin="round" font-family="Liberation Sans" font-size="22.5">
    <text x="906" y="1085.5" textLength="293" lengthAdjust="spacingAndGlyphs"><tspan font-weight="bold" stroke-width="0.9">Multi-level</tspan><tspan stroke-width="0.2"> Learning System</tspan><tspan font-size="17" dy="-3" stroke-width="0.2">™</tspan></text>
  </g>

  <!-- circles -->
  <g id="rings" fill="none" stroke-width="11">
    <!-- C1 purple top, white bottom -->
    <path d="M803.5,1217.5 A54.5,54.5 0 0 1 912.5,1217.5" stroke="#b3539d"/>
    <path d="M803.5,1217.5 A54.5,54.5 0 0 0 912.5,1217.5" stroke="#fff"/>
    <!-- C3 purple top, white bottom -->
    <path d="M1025.5,1217.5 A54.5,54.5 0 0 1 1134.5,1217.5" stroke="#b3539d"/>
    <path d="M1025.5,1217.5 A54.5,54.5 0 0 0 1134.5,1217.5" stroke="#fff"/>
    <!-- C2 white top, purple bottom -->
    <path d="M914.5,1217.5 A54.5,54.5 0 0 0 1023.5,1217.5" stroke="#b3539d"/>
    <path d="M914.5,1217.5 A54.5,54.5 0 0 1 1023.5,1217.5" stroke="#fff"/>
    <!-- C4 -->
    <path d="M1137,1217.5 A54.5,54.5 0 0 0 1246,1217.5" stroke="#b3539d"/>
    <path d="M1137,1217.5 A54.5,54.5 0 0 1 1246,1217.5" stroke="#fff"/>
  </g>
  <!-- notches -->
  <g fill="#fff" stroke="#fff" stroke-width="3" stroke-linejoin="round">
    <path d="M961,1160 L961,1153 L969,1147 L977,1153 L977,1160 Z"/>
    <path d="M1183,1160 L1183,1153 L1191,1147 L1199,1153 L1199,1160 Z"/>
    <path d="M850,1276 L850,1282 L858,1288 L866,1282 L866,1276 Z"/>
    <path d="M1072,1276 L1072,1282 L1080,1288 L1088,1282 L1088,1276 Z"/>
  </g>
  <circle cx="969" cy="1217.5" r="40" fill="#b3539d" stroke="#fff" stroke-width="3"/>
  <!-- junction dots -->
  <g fill="#b3539d" stroke="#fff" stroke-width="4">
    <circle cx="913.5" cy="1218" r="9"/>
    <circle cx="1024.5" cy="1218" r="9"/>
    <circle cx="1136" cy="1218" r="9"/>
    <circle cx="1247.5" cy="1218" r="9"/>
  </g>
  <g fill="#fff" stroke="#fff" stroke-linejoin="round" font-family="Liberation Sans" font-weight="bold" text-anchor="middle">
    <g font-size="20.5" stroke-width="0.9">
      <text x="858" y="1208.5">Level</text>
      <text x="969" y="1208.5">Level</text>
      <text x="1080" y="1208.5">Level</text>
      <text x="1191" y="1208.5">Level</text>
    </g>
    <g font-size="36" stroke-width="1.6">
      <text x="858" y="1242">1</text>
      <text x="969" y="1242">2</text>
      <text x="1080" y="1242">3</text>
      <text x="1191" y="1242">4</text>
    </g>
    <g font-size="26.5" stroke-width="1.3">
      <text x="969.5" y="1142" textLength="112" lengthAdjust="spacingAndGlyphs">Drawing</text>
      <text x="1190" y="1142" textLength="116" lengthAdjust="spacingAndGlyphs">Learning</text>
      <text x="857" y="1311.5" textLength="107" lengthAdjust="spacingAndGlyphs">Building</text>
      <text x="1080" y="1311.5" textLength="194" lengthAdjust="spacingAndGlyphs">Experimenting</text>
    </g>
  </g>
  <g stroke="#c9c9c9" stroke-width="2.2">
    <line x1="834" y1="1212" x2="882" y2="1212"/>
    <line x1="945" y1="1212" x2="993" y2="1212"/>
    <line x1="1056" y1="1212" x2="1104" y2="1212"/>
    <line x1="1167" y1="1212" x2="1215" y2="1212"/>
  </g>
</g>

</svg>
</body></html>
